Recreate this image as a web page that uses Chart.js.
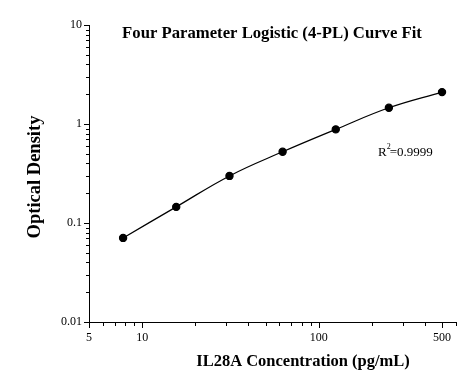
<!DOCTYPE html>
<html>
<head>
<meta charset="utf-8">
<script src="https://cdn.jsdelivr.net/npm/chart.js@4.4.1/dist/chart.umd.min.js"></script>
<style>
  html, body { margin: 0; padding: 0; background: #fff; }
  #wrap { width: 472px; height: 386px; }
</style>
</head>
<body>
<div id="wrap"><canvas id="mycanvas" width="472" height="386"></canvas></div>
<script>
// standard concentrations (pg/mL) and measured OD
var conc = [7.8, 15.6, 31.25, 62.5, 125, 250, 500];
var od = [0.0707, 0.1455, 0.299, 0.524, 0.882, 1.458, 2.10];
var xLabels = [5, 10, 100, 500];
var yLabels = [0.01, 0.1, 1, 10];

var points = [];
for (var i in conc) {
	points.push({x: conc[i], y: od[i]});
}

var serif = "'Liberation Serif', 'Times New Roman', serif";

// minor/major ticks, titles and the R2 note
var decor = {
	id: 'decor',
	afterDraw: function(chart) {
		var c = chart.ctx;
		var xs = chart.scales.x, ys = chart.scales.y;
		var a = chart.chartArea;
		c.save();
		c.strokeStyle = '#000';
		c.lineWidth = 1;
		c.beginPath();
		for (var d = 1; d <= 100; d *= 10) {
			for (var m = 1; m <= 9; m++) {
				var v = m * d;
				if (v < 5 || v > 600) continue;
				var px = Math.round(xs.getPixelForValue(v)) + 0.5;
				var len = (m == 1 || xLabels.indexOf(v) >= 0) ? 6 : 4;
				c.moveTo(px, a.bottom);
				c.lineTo(px, a.bottom + len);
			}
		}
		c.moveTo(Math.round(xs.getPixelForValue(600)) + 0.5, a.bottom);
		c.lineTo(Math.round(xs.getPixelForValue(600)) + 0.5, a.bottom + 4);
		var decs = [0.01, 0.1, 1];
		for (var k in decs) {
			for (var m = 1; m <= 9; m++) {
				var v = m * decs[k];
				var py = Math.round(ys.getPixelForValue(v)) + 0.5;
				var len = (m == 1) ? 5 : 3;
				c.moveTo(a.left, py);
				c.lineTo(a.left - len, py);
			}
		}
		var top = Math.round(ys.getPixelForValue(10)) + 0.5;
		c.moveTo(a.left, top);
		c.lineTo(a.left - 5, top);
		c.stroke();

		c.fillStyle = '#000';
		c.textAlign = 'center';
		c.textBaseline = 'middle';
		c.font = 'bold 16.7px ' + serif;
		c.fillText('Four Parameter Logistic (4-PL) Curve Fit', 272, 34);

		c.font = 'bold 16.5px ' + serif;
		c.fillText('IL28A Concentration (pg/mL)', 303, 362);

		c.save();
		c.translate(35, 177);
		c.rotate(-Math.PI / 2);
		c.font = 'bold 18.5px ' + serif;
		c.fillText('Optical Density', 0, 0);
		c.restore();

		c.textAlign = 'left';
		c.textBaseline = 'alphabetic';
		c.font = '13px ' + serif;
		c.fillText('R', 378, 156);
		var rw = c.measureText('R').width;
		c.font = '8px ' + serif;
		c.fillText('2', 378 + rw, 149);
		c.font = '13px ' + serif;
		c.fillText('=0.9999', 378 + rw + 3, 156);
		c.restore();
	}
};

var ctx = document.getElementById('mycanvas');

var chart = new Chart(ctx, {
	type: 'scatter',
	data: {
		datasets: [
			{
				label: 'Standard curve',
				data: points,
				showLine: true,
				tension: 0.4,
				borderColor: '#000',
				borderWidth: 1.2,
				backgroundColor: '#000',
				pointRadius: 3.6,
				pointHoverRadius: 3.6
			}
		]
	},
	options: {
		responsive: false,
		animation: false,
		layout: { padding: { top: 25, right: 16, left: 0, bottom: 0 } },
		plugins: {
			legend: { display: false },
			tooltip: { enabled: false }
		},
		scales: {
			x: {
				type: 'logarithmic',
				min: 5,
				max: 600,
				afterFit: function(s) { s.height = 64; },
				grid: { display: false, drawTicks: false },
				border: { display: true, color: '#000', width: 1 },
				ticks: {
					autoSkip: false,
					maxRotation: 0,
					padding: 9,
					color: '#000',
					font: { family: serif, size: 12 },
					callback: function(v) { return xLabels.indexOf(v) >= 0 ? String(v) : ''; }
				}
			},
			y: {
				type: 'logarithmic',
				min: 0.01,
				max: 10,
				afterFit: function(s) { s.width = 89; },
				grid: { display: false, drawTicks: false },
				border: { display: true, color: '#000', width: 1 },
				ticks: {
					autoSkip: false,
					padding: 7,
					color: '#000',
					font: { family: serif, size: 12 },
					callback: function(v) {
						for (var j in yLabels) {
							if (Math.abs(v - yLabels[j]) < yLabels[j] * 1e-6) return String(yLabels[j]);
						}
						return '';
					}
				}
			}
		}
	},
	plugins: [decor]
});
</script>
</body>
</html>
